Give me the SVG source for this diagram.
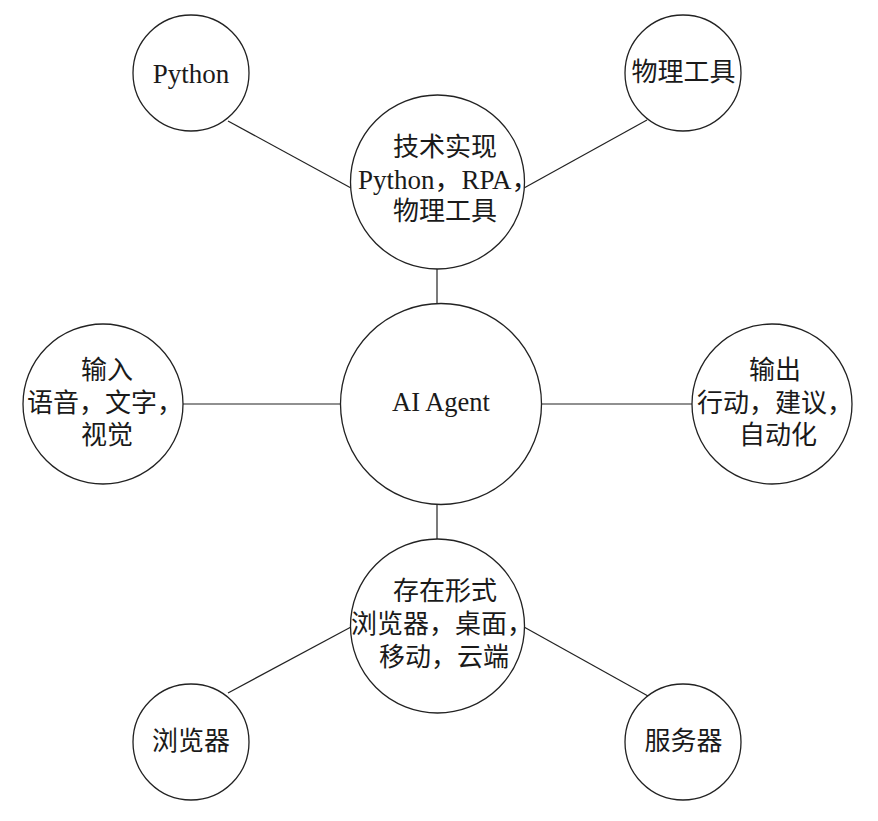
<svg xmlns="http://www.w3.org/2000/svg" width="878" height="821" viewBox="0 0 878 821">
<style>
.node{fill:#fff;stroke:#222;stroke-width:1.3}
.edge{stroke:#222;stroke-width:1.2;fill:none}
text{font-family:"Liberation Serif","Noto Sans CJK SC",serif;font-size:26px;fill:#1a1a1a}
.m{text-anchor:middle}
.lat{font-size:27px}
</style>
<rect width="878" height="821" fill="#fff"/>
<g id="connectors">
<line class="edge" x1="228" y1="121" x2="351" y2="188"/>
<line class="edge" x1="647" y1="120" x2="524" y2="188"/>
<line class="edge" x1="437" y1="268" x2="437" y2="303"/>
<line class="edge" x1="183" y1="404" x2="341" y2="404"/>
<line class="edge" x1="541" y1="404" x2="692" y2="404"/>
<line class="edge" x1="437" y1="505" x2="437" y2="539"/>
<line class="edge" x1="351" y1="627" x2="228" y2="693"/>
<line class="edge" x1="524" y1="627" x2="648" y2="696"/>
</g>
<g id="node-python">
<circle class="node" cx="191" cy="73" r="58"/>
<text class="m lat" x="191" y="83">Python</text>
</g>
<g id="node-wuli">
<circle class="node" cx="683" cy="73" r="58"/>
<text class="m" x="683.5" y="81">物理工具</text>
</g>
<g id="node-tech">
<circle class="node" cx="437.5" cy="182" r="87"/>
<text x="393" y="156">技术实现</text>
<text class="lat" x="358" y="189">Python，RPA，</text>
<text x="393" y="220">物理工具</text>
</g>
<g id="node-agent">
<circle class="node" cx="441" cy="404" r="100.5"/>
<text class="m" x="441" y="411" style="font-size:26.5px">AI Agent</text>
</g>
<g id="node-input">
<circle class="node" cx="103" cy="404" r="80"/>
<text x="81" y="379">输入</text>
<text x="27" y="412">语音，文字，</text>
<text x="81" y="444">视觉</text>
</g>
<g id="node-output">
<circle class="node" cx="772" cy="404" r="80"/>
<text x="749" y="379">输出</text>
<text x="697" y="412">行动，建议，</text>
<text x="739" y="444">自动化</text>
</g>
<g id="node-form">
<circle class="node" cx="437.5" cy="626" r="87"/>
<text x="393" y="600">存在形式</text>
<text x="351" y="633">浏览器，桌面，</text>
<text x="379" y="666">移动，云端</text>
</g>
<g id="node-browser">
<circle class="node" cx="191" cy="742" r="58"/>
<text class="m" x="191" y="750">浏览器</text>
</g>
<g id="node-server">
<circle class="node" cx="683" cy="742" r="58"/>
<text class="m" x="683.5" y="750">服务器</text>
</g>
</svg>
